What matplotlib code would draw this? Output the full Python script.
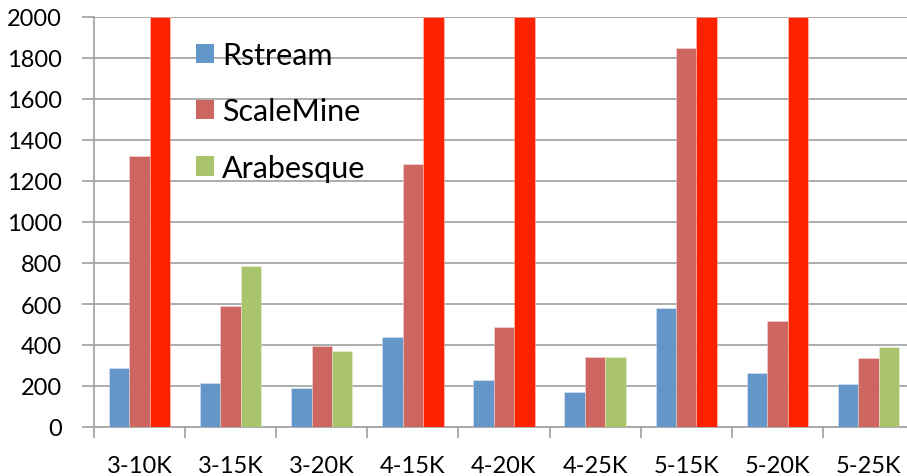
import matplotlib
matplotlib.use("Agg")
import matplotlib.pyplot as plt
from matplotlib.patches import Patch
import numpy as np

# Runtime per dataset / support threshold
categories = ["3-10K", "3-15K", "3-20K", "4-15K", "4-20K", "4-25K", "5-15K", "5-20K", "5-25K"]
rstream = [286, 213, 192, 439, 229, 171, 580, 262, 208]
scalemine = [1320, 589, 397, 1281, 488, 340, 1849, 515, 335]
# Arabesque runs that exceed the axis limit are capped at 2000 and shown in red
arabesque = [2000, 784, 371, 2000, 2000, 343, 2000, 2000, 389]
y_max = 2000
y_ticks = [0, 200, 400, 600, 800, 1000, 1200, 1400, 1600, 1800, 2000]

series_names = ["Rstream", "ScaleMine", "Arabesque"]
colors = ["#6497C9", "#CD6560", "#A9C46B"]
over_color = "#FF2200"
grid_color = "#A6A6A6"

plt.rcParams["font.family"] = ["Lato", "DejaVu Sans"]

W, H = 907, 477
fig = plt.figure(figsize=(W / 100, H / 100), dpi=100)
ax = fig.add_axes([94 / W, (H - 428) / H, (914 - 94) / W, 410 / H])

x = np.arange(len(categories))
bw = 0.224
offsets = [-bw, 0, bw]

ax.bar(x + offsets[0], rstream, bw, color=colors[0], edgecolor=(1, 1, 1, 0.35), linewidth=0.6, zorder=3)
ax.bar(x + offsets[1], scalemine, bw, color=colors[1], edgecolor=(1, 1, 1, 0.35), linewidth=0.6, zorder=3)
arab_colors = [over_color if v >= y_max else colors[2] for v in arabesque]
ax.bar(x + offsets[2], arabesque, bw, color=arab_colors, edgecolor=(1, 1, 1, 0.35), linewidth=0.6, zorder=3)

ax.set_xlim(-0.5, len(categories) - 0.5)
ax.set_ylim(0, y_max)

ax.set_yticks(y_ticks)
ax.set_yticklabels([str(t) for t in y_ticks])
ax.yaxis.grid(True, color=grid_color, linewidth=1.3, zorder=0)
ax.set_axisbelow(True)

# category boundaries carry the tick marks, labels sit at category centres
ax.set_xticks(np.arange(-0.5, len(categories) + 0.5, 1.0))
ax.set_xticklabels([])
ax.set_xticks(x, minor=True)
ax.set_xticklabels(categories, minor=True)
ax.tick_params(axis="x", which="major", length=8, width=1.3, color=grid_color, direction="out")
ax.tick_params(axis="x", which="minor", length=0, pad=20, labelsize=17)
ax.tick_params(axis="y", length=9, width=1.3, color=grid_color, direction="out", pad=14, labelsize=17)

for side in ["top", "right"]:
    ax.spines[side].set_visible(False)
for side in ["left", "bottom"]:
    ax.spines[side].set_color(grid_color)
    ax.spines[side].set_linewidth(1.3)

handles = [Patch(facecolor=c, edgecolor="none") for c in colors]
fig.legend(handles, series_names, loc="upper left",
           bbox_to_anchor=(196 / W, (H - 42) / H), frameon=False,
           fontsize=22, handlelength=0.6, handleheight=0.6,
           handletextpad=0.25, labelspacing=0.93, borderpad=0, borderaxespad=0)

fig.savefig("out.png", dpi=100)
